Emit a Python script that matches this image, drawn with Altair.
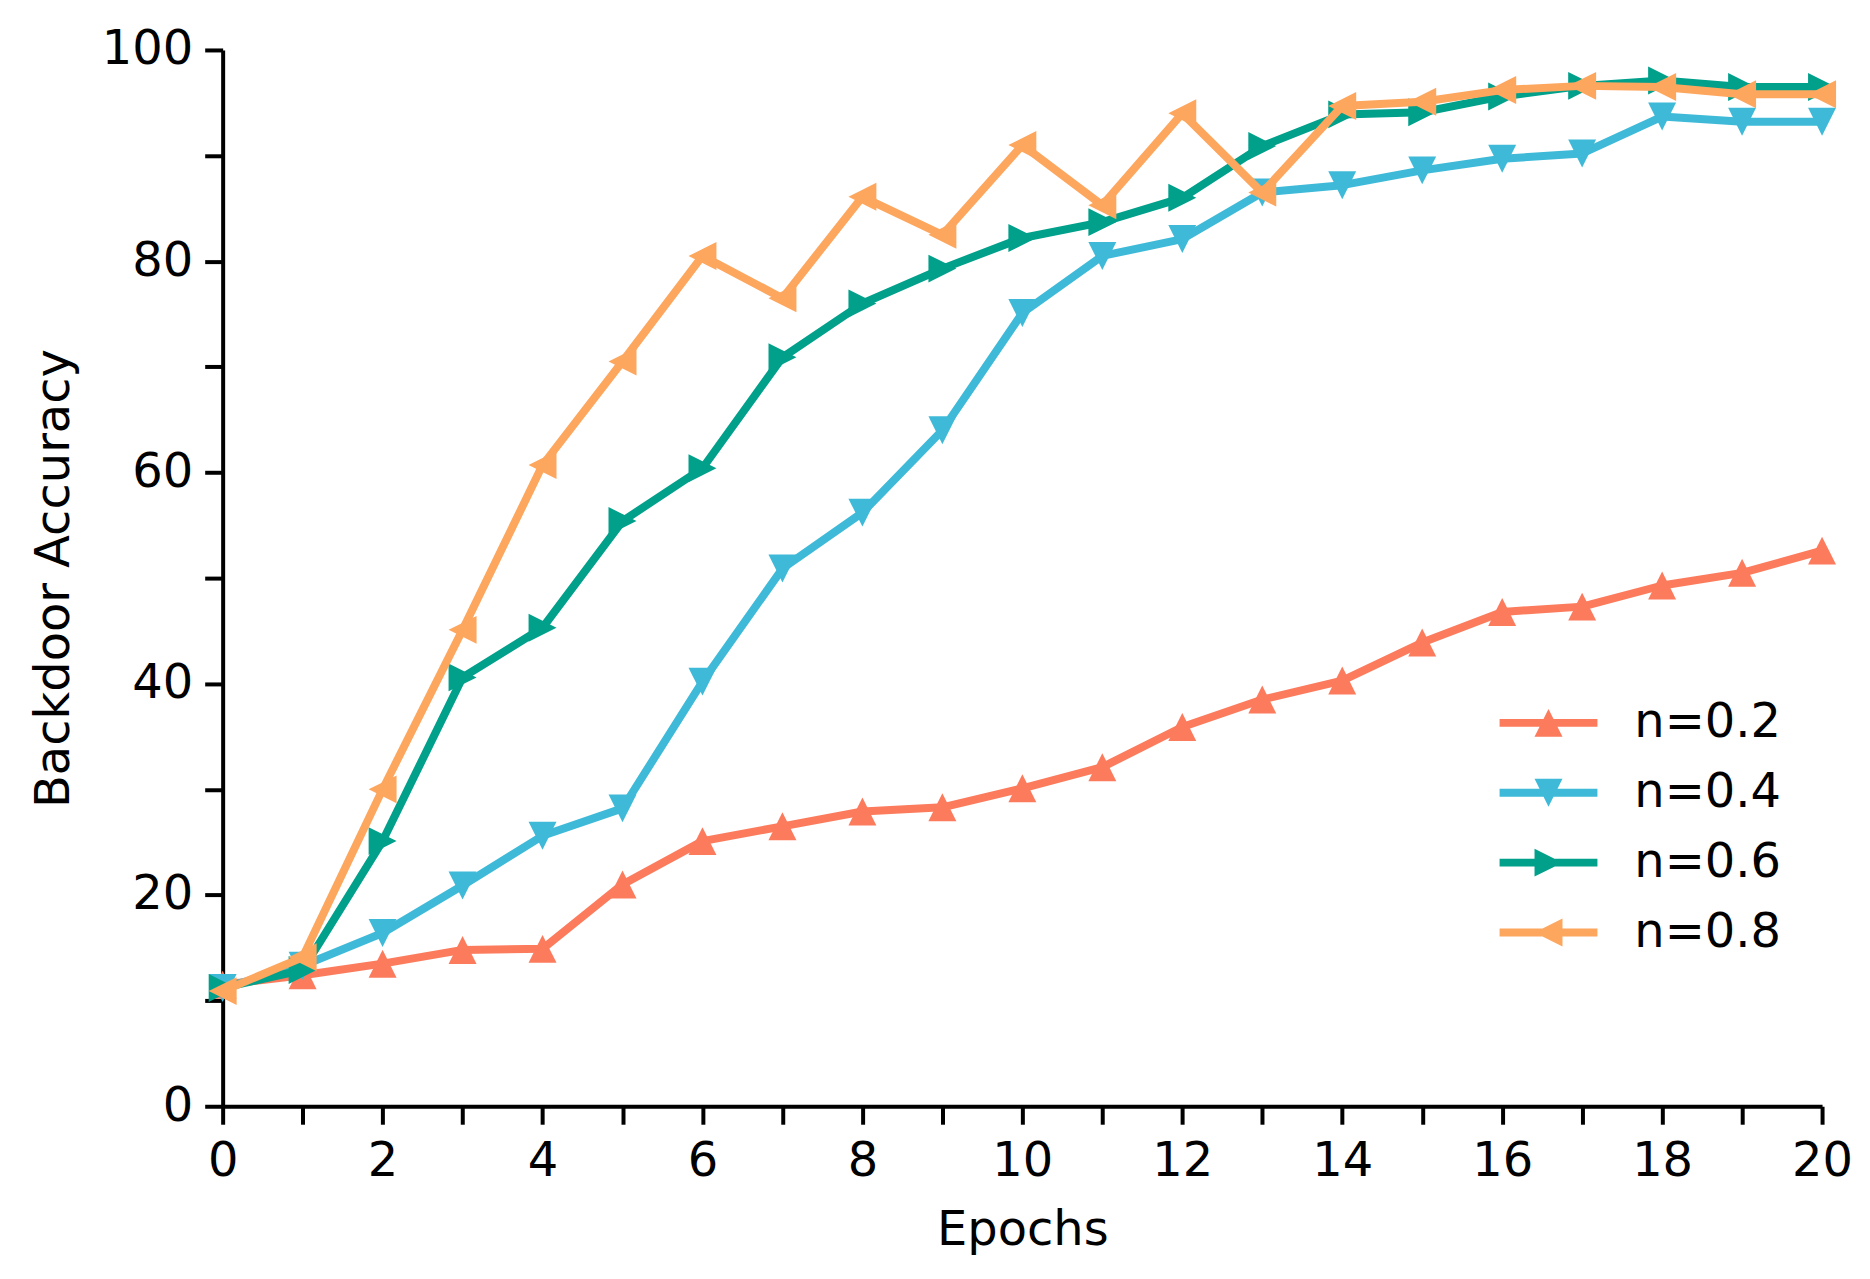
import altair as alt
import pandas as pd

epochs = list(range(21))
series_names = ["n=0.2", "n=0.4", "n=0.6", "n=0.8"]
n02 = [11.5, 12.4, 13.5, 14.8, 14.9, 21.0, 25.1, 26.5, 27.9, 28.3, 30.1, 32.1, 35.9, 38.5, 40.3, 43.9, 46.8, 47.3, 49.3, 50.5, 52.6]
n04 = [11.2, 13.3, 16.4, 20.9, 25.6, 28.2, 40.2, 50.9, 56.2, 64.0, 75.1, 80.5, 82.1, 86.5, 87.2, 88.6, 89.7, 90.2, 93.7, 93.2, 93.2]
n06 = [11.2, 12.9, 25.1, 40.6, 45.3, 55.4, 60.4, 70.9, 76.0, 79.3, 82.2, 83.7, 86.0, 90.9, 93.9, 94.1, 95.6, 96.6, 97.1, 96.5, 96.5]
n08 = [10.9, 14.1, 30.0, 45.1, 60.7, 70.5, 80.5, 76.5, 86.1, 82.5, 91.0, 85.3, 94.0, 86.5, 94.7, 95.1, 96.2, 96.6, 96.5, 95.8, 95.8]
x_ticks = list(range(0, 21))
y_ticks = list(range(0, 101, 10))

colors = ["#FC7B5C", "#3EBAD8", "#00A08B", "#FDA65E"]
# marker paths (unit square, -1..1)
tri_paths = [
    "M0,-1L1,1L-1,1Z",   # up
    "M0,1L-1,-1L1,-1Z",  # down
    "M1,0L-1,1L-1,-1Z",  # right
    "M-1,0L1,-1L1,1Z",   # left
]
bar = "M-3.5,-0.28H3.5V0.28H-3.5Z "
legend_paths = [bar + p for p in tri_paths]

rows = []
for name, vals in zip(series_names, [n02, n04, n06, n08]):
    for e, v in zip(epochs, vals):
        rows.append({"epoch": e, "acc": v, "series": name})
df = pd.DataFrame(rows)

FONT = "DejaVu Sans"
FS = 48
MSIZE = 784
LW = 8

xenc = alt.X("epoch:Q",
             scale=alt.Scale(domain=[0, 20], nice=False, zero=False),
             axis=alt.Axis(values=x_ticks, labelExpr="datum.value % 2 == 0 ? datum.label : ''",
                           title="Epochs", grid=False, tickSize=18, tickWidth=4,
                           domainWidth=4, domainColor="black", tickColor="black",
                           labelFontSize=FS, labelFont=FONT, labelColor="black",
                           titleFontSize=FS, titleFont=FONT, titleFontWeight="normal",
                           titleColor="black", labelPadding=13, titlePadding=21,
                           labelFlush=False))
yenc = alt.Y("acc:Q",
             scale=alt.Scale(domain=[0, 100], nice=False),
             axis=alt.Axis(values=y_ticks, labelExpr="datum.value % 20 == 0 ? datum.label : ''",
                           title="Backdoor Accuracy", grid=False, tickSize=18, tickWidth=4,
                           domainWidth=4, domainColor="black", tickColor="black",
                           labelFontSize=FS, labelFont=FONT, labelColor="black",
                           titleFontSize=FS, titleFont=FONT, titleFontWeight="normal",
                           titleColor="black", labelPadding=12, titlePadding=23,
                           labelFlush=False))

layers = []
for name, col, path in zip(series_names, colors, tri_paths):
    base = alt.Chart(df).transform_filter(alt.datum.series == name)
    layers.append(base.mark_line(color=col, strokeWidth=LW, strokeCap="round",
                                 strokeJoin="round").encode(x=xenc, y=yenc))
    layers.append(base.mark_point(shape=path, filled=True, color=col, size=MSIZE,
                                  opacity=1, strokeWidth=0).encode(x=xenc, y=yenc))

leg = alt.Legend(title=None, orient="none", legendX=1304, legendY=650,
                 labelFont=FONT, labelFontSize=FS, labelColor="black",
                 labelOffset=62, symbolOffset=0, padding=0, symbolOpacity=1,
                 rowPadding=22, symbolStrokeWidth=0, symbolSize=MSIZE)

# legend-only layer: no data rows survive the filter, the legend comes from the explicit scale domains
legend_layer = alt.Chart(df).transform_filter("false").mark_point(
    filled=True, size=MSIZE, opacity=1, strokeWidth=0).encode(
    x=xenc, y=yenc,
    color=alt.Color("series:N", scale=alt.Scale(domain=series_names, range=colors), legend=leg),
    shape=alt.Shape("series:N", scale=alt.Scale(domain=series_names, range=legend_paths), legend=leg),
)

chart = alt.layer(*layers, legend_layer).properties(
    width=1602, height=1058,
    autosize=alt.AutoSizeParams(type="none"),
    padding={"left": 215, "top": 41, "right": 40, "bottom": 170},
).configure(background="white").configure_view(strokeWidth=0, stroke="transparent")

chart.save("out.html", embed_options={"renderer": "svg", "actions": False})
